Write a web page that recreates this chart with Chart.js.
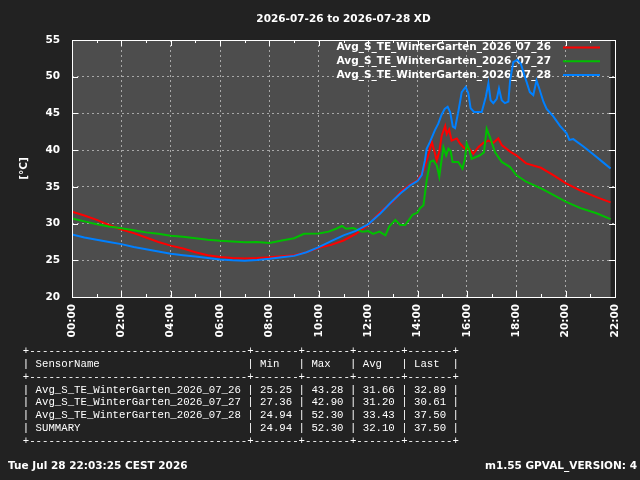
<!DOCTYPE html>
<html><head><meta charset="utf-8">
<script src="https://cdn.jsdelivr.net/npm/chart.js@4/dist/chart.umd.min.js"></script>
<style>
html,body{margin:0;padding:0;background:#222222;}
#wrap{position:relative;width:640px;height:480px;overflow:hidden;background:#222222;}
canvas{position:absolute;left:0;top:0;}
#tbl{position:absolute;left:22.8px;top:345px;margin:0;font-family:"Liberation Mono",monospace;font-size:10.7px;line-height:12.86px;color:#ffffff;white-space:pre;}
.ft{position:absolute;top:459px;font-family:"DejaVu Sans",sans-serif;font-weight:bold;font-size:10.5px;color:#ffffff;white-space:pre;}
</style></head><body>
<div id="wrap"><canvas id="c" width="640" height="480"></canvas><pre id="tbl"></pre>
<div class="ft" id="fl" style="left:8px"></div><div class="ft" id="fr" style="right:3px"></div></div>
<script>
const titleText = "2026-07-26 to 2026-07-28 XD";
const yTitle = "[°C]";
const seriesNames = ["Avg_S_TE_WinterGarten_2026_07_26","Avg_S_TE_WinterGarten_2026_07_27","Avg_S_TE_WinterGarten_2026_07_28"];
const seriesColors = ["#ff0000","#00c000","#0080ff"];
const xTickHours = [0,2,4,6,8,10,12,14,16,18,20,22];
const yTicks = [20,25,30,35,40,45,50,55];

const t26 = [0,0.5,1,1.5,2,2.5,3,3.5,4,4.5,5,5.5,6,6.5,7,7.5,8,8.5,9,9.5,10,10.5,11,11.5,12,12.5,13,13.3,13.7,14,14.25,14.45,14.58,14.67,14.78,14.88,14.98,15.12,15.18,15.28,15.38,15.59,15.72,15.92,16.1,16.26,16.46,16.67,16.87,17.07,17.27,17.41,17.75,18,18.4,19,19.5,20,20.6,21.25,21.82];
const v26 = [31.6,31.1,30.5,29.8,29.2,28.7,28.1,27.5,27.0,26.6,26.1,25.7,25.45,25.3,25.25,25.3,25.4,25.55,25.7,26.1,26.7,27.1,27.7,28.6,29.8,31.6,33.0,34.3,35.3,35.9,37.3,39.5,41.1,40.0,38.6,39.8,42.0,43.28,42.2,42.8,41.3,41.6,40.9,40.2,40.2,39.5,40.4,41.0,41.3,41.0,41.6,40.7,39.8,39.3,38.2,37.6,36.6,35.5,34.5,33.6,32.89];

const t27 = [0,0.5,1,1.5,2,2.5,3,3.5,4,4.5,5,5.5,6,6.5,7,7.5,8,8.5,9,9.4,10,10.4,10.7,10.94,11.1,11.4,11.76,12,12.2,12.45,12.7,12.85,13.1,13.3,13.5,13.8,14,14.1,14.24,14.37,14.51,14.64,14.78,14.88,14.98,15.05,15.16,15.25,15.34,15.42,15.65,15.82,15.92,15.99,16.1,16.19,16.53,16.69,16.8,16.94,17.14,17.41,17.75,18,18.4,19,19.5,20,20.6,21.25,21.82];
const v27 = [30.7,30.3,29.9,29.6,29.35,29.1,28.8,28.6,28.35,28.2,28.0,27.8,27.65,27.55,27.45,27.5,27.36,27.7,28.0,28.6,28.65,28.9,29.3,29.67,29.3,29.4,28.9,29.0,28.6,28.9,28.4,29.6,30.5,29.8,29.8,31.2,31.5,32.1,32.5,35.9,38.4,38.6,37.9,36.4,38.8,40.4,39.3,40.2,39.9,38.4,38.4,37.5,38.8,40.9,40.0,38.8,39.3,39.7,42.9,41.7,39.7,38.4,37.7,36.6,35.7,34.8,33.9,33.0,32.1,31.4,30.61];

const t28 = [0,0.5,1,1.5,2,2.5,3,3.5,4,4.5,5,5.5,6,6.5,7,7.5,8,8.5,9,9.5,10,10.5,11,11.5,12,12.5,12.9,13.3,13.7,14,14.17,14.3,14.37,14.5,14.7,14.84,14.97,15.1,15.22,15.32,15.43,15.52,15.66,15.79,15.95,16.06,16.15,16.29,16.6,16.77,16.87,16.96,17.07,17.21,17.3,17.41,17.54,17.68,17.75,17.88,18.04,18.18,18.35,18.55,18.69,18.82,18.93,19.1,19.23,19.5,19.77,20.04,20.15,20.31,20.72,21.13,21.53,21.82];
const v28 = [28.5,28.1,27.8,27.5,27.2,26.8,26.5,26.2,25.9,25.7,25.5,25.3,25.1,25.0,24.94,25.05,25.2,25.4,25.6,26.1,26.8,27.6,28.4,29.0,29.9,31.4,32.8,34.1,35.2,35.8,36.6,38.6,40.2,41.1,42.7,43.6,44.8,45.6,45.9,45.2,43.2,43.0,45.4,47.9,48.6,47.7,45.7,45.2,45.2,47.3,49.1,46.8,46.4,47.0,48.4,46.8,46.4,46.6,49.5,52.0,52.3,51.8,50.0,47.9,47.5,49.5,48.4,46.6,45.6,44.6,43.3,42.3,41.4,41.5,40.5,39.4,38.3,37.5];

const tableHeader = ["SensorName","Min","Max","Avg","Last"];
const tableNames = ["Avg_S_TE_WinterGarten_2026_07_26","Avg_S_TE_WinterGarten_2026_07_27","Avg_S_TE_WinterGarten_2026_07_28","SUMMARY"];
const tableMin = ["25.25","27.36","24.94","24.94"];
const tableMax = ["43.28","42.90","52.30","52.30"];
const tableAvg = ["31.66","31.20","33.43","32.10"];
const tableLast = ["32.89","30.61","37.50","37.50"];
const footerLeft = "Tue Jul 28 22:03:25 CEST 2026";
const footerRight = "m1.55 GPVAL_VERSION: 4";

// table text
(function(){
  const w = [32,5,5,5,5];
  const sep = "+" + w.map(n => "-".repeat(n+2)).join("+") + "+";
  const row = cells => "| " + cells.map((c,i) => c.padEnd(w[i])).join(" | ") + " |";
  const lines = [sep, row(tableHeader), sep];
  tableNames.forEach((n,i) => lines.push(row([n,tableMin[i],tableMax[i],tableAvg[i],tableLast[i]])));
  lines.push(sep);
  document.getElementById("tbl").textContent = lines.join("\n");
  document.getElementById("fl").textContent = footerLeft;
  document.getElementById("fr").textContent = footerRight;
})();

const FONT = "'DejaVu Sans', sans-serif";
const series = [[t26,v26],[t27,v27],[t28,v28]];
const lastT = Math.max(t26[t26.length-1], t27[t27.length-1], t28[t28.length-1]);

const gnuplotLook = {
  id: "gnuplotLook",
  beforeDraw(chart) {
    const {ctx, chartArea: a, scales: {x}} = chart;
    ctx.save();
    ctx.fillStyle = "#222222";
    ctx.fillRect(0, 0, chart.width, chart.height);
    ctx.fillStyle = "#4d4d4d";
    const xr = x.getPixelForValue(lastT);
    ctx.fillRect(a.left, a.top, xr - a.left, a.bottom - a.top);
    // title centred over the plot area
    ctx.fillStyle = "#ffffff";
    ctx.font = "bold 10.5px " + FONT;
    ctx.textAlign = "center";
    ctx.textBaseline = "middle";
    ctx.fillText(titleText, (a.left + a.right) / 2, 19);
    ctx.restore();
  },
  beforeDatasetsDraw(chart) {
    const {ctx} = chart;
    ctx.save();
    ctx.font = "bold 10.5px " + FONT;
    ctx.textAlign = "right";
    ctx.textBaseline = "middle";
    chart.data.datasets.forEach((ds, i) => {
      const y = 47.5 + 13.7 * i;
      ctx.fillStyle = "#ffffff";
      ctx.fillText(ds.label, 551, y);
      ctx.strokeStyle = ds.borderColor;
      ctx.lineWidth = 2;
      ctx.beginPath();
      ctx.moveTo(563, y);
      ctx.lineTo(600, y);
      ctx.stroke();
    });
    ctx.restore();
  },
  afterDatasetsDraw(chart) {
    const {ctx, chartArea: a, scales: {x, y}} = chart;
    ctx.save();
    ctx.strokeStyle = "#ffffff";
    ctx.lineWidth = 1;
    ctx.beginPath();
    for (let h = 0; h <= 22; h++) {
      const px = Math.round(x.getPixelForValue(h)) + 0.5;
      const len = h % 2 === 0 ? 6 : 3;
      ctx.moveTo(px, a.bottom); ctx.lineTo(px, a.bottom - len);
      ctx.moveTo(px, a.top); ctx.lineTo(px, a.top + len);
    }
    yTicks.forEach(v => {
      const py = Math.round(y.getPixelForValue(v)) + 0.5;
      ctx.moveTo(a.left, py); ctx.lineTo(a.left + 6, py);
      ctx.moveTo(a.right, py); ctx.lineTo(a.right - 6, py);
    });
    ctx.stroke();
    ctx.strokeRect(Math.round(a.left) + 0.5, Math.round(a.top) + 0.5, Math.round(a.right - a.left), Math.round(a.bottom - a.top));
    // y axis title
    ctx.fillStyle = "#ffffff";
    ctx.font = "bold 10.5px " + FONT;
    ctx.textAlign = "center";
    ctx.textBaseline = "middle";
    ctx.translate(24, (a.top + a.bottom) / 2);
    ctx.rotate(-Math.PI / 2);
    ctx.fillText(yTitle, 0, 0);
    ctx.restore();
  }
};

new Chart(document.getElementById("c"), {
  type: "line",
  data: {
    datasets: series.map((s, i) => ({
      label: seriesNames[i],
      data: s[0].map((t, j) => ({x: t, y: s[1][j]})),
      borderColor: seriesColors[i],
      backgroundColor: seriesColors[i],
      borderWidth: 2,
      pointRadius: 0,
      tension: 0,
      fill: false,
      order: 3 - i
    }))
  },
  options: {
    responsive: false,
    animation: false,
    devicePixelRatio: 1,
    layout: {padding: {left: 0, right: 25, top: 40, bottom: 0}},
    plugins: {
      legend: {display: false},
      tooltip: {enabled: false},
      title: {display: false}
    },
    scales: {
      x: {
        type: "linear",
        min: 0, max: 22,
        afterFit: s => { s.height = 183; },
        afterBuildTicks: s => { s.ticks = xTickHours.map(v => ({value: v})); },
        ticks: {
          color: "#ffffff",
          font: {family: FONT, size: 10.5, weight: "bold"},
          maxRotation: 90, minRotation: 90, autoSkip: false, padding: 7,
          callback: v => String(v).padStart(2, "0") + ":00"
        },
        grid: {color: "#a8a8a8", lineWidth: 1, drawTicks: false},
        border: {display: false, dash: [2, 3]}
      },
      y: {
        min: 20, max: 55,
        afterFit: s => { s.width = 72; },
        afterBuildTicks: s => { s.ticks = yTicks.map(v => ({value: v})); },
        ticks: {
          color: "#ffffff",
          font: {family: FONT, size: 10.5, weight: "bold"},
          padding: 12
        },
        grid: {color: "#a8a8a8", lineWidth: 1, drawTicks: false},
        border: {display: false, dash: [2, 3]}
      }
    }
  },
  plugins: [gnuplotLook]
});
</script>
</body></html>
